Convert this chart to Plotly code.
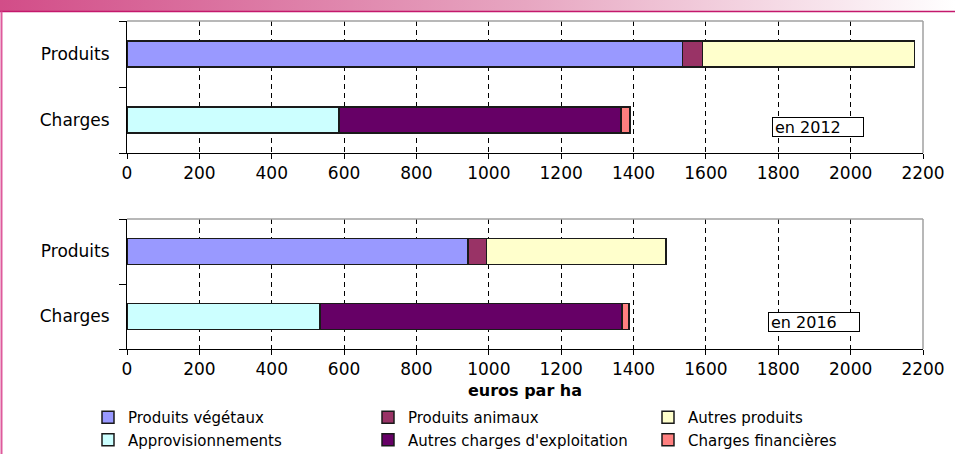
import base64
import plotly.graph_objects as go

# ---- data ----
years = ["2012", "2016"]
categories = ["Charges", "Produits"]
x_ticks = [0, 200, 400, 600, 800, 1000, 1200, 1400, 1600, 1800, 2000, 2200]

produits_vegetaux = [1535, 943]
produits_animaux = [55, 51]
autres_produits = [587, 495]
approvisionnements = [586, 534]
autres_charges = [780, 834]
charges_financieres = [24, 19]

series = [
    ("Produits végétaux", "Produits", produits_vegetaux, "#9999FF"),
    ("Produits animaux", "Produits", produits_animaux, "#993366"),
    ("Autres produits", "Produits", autres_produits, "#FFFFCC"),
    ("Approvisionnements", "Charges", approvisionnements, "#CCFFFF"),
    ("Autres charges d'exploitation", "Charges", autres_charges, "#660066"),
    ("Charges financières", "Charges", charges_financieres, "#FF8080"),
]

W, H = 955, 454
ML, MR, MT, MB = 127, 32, 21, 105
PW, PH = W - ML - MR, H - MT - MB


def px_x(px):
    return (px - ML) / PW


def px_y(py):
    return (H - MB - py) / PH


FONT = "DejaVu Sans"

fig = go.Figure()
for i, yr in enumerate(years):
    xa = "x" if i == 0 else "x2"
    ya = "y" if i == 0 else "y2"
    for name, cat, vals, col in series:
        fig.add_trace(go.Bar(
            name=name, y=[cat], x=[vals[i]], orientation="h",
            xaxis=xa, yaxis=ya, width=0.4,
            marker=dict(color=col, line=dict(color="#1a1a1a", width=1.5)),
            showlegend=(i == 0), legendgroup=name,
            hovertemplate=name + ": %{x}<extra></extra>",
        ))

axis_x = dict(
    range=[0, 2200], tickvals=x_ticks, ticks="outside", ticklen=5,
    tickcolor="black", tickwidth=1, showline=True, linecolor="black",
    linewidth=1, showgrid=True, gridcolor="black", gridwidth=1,
    griddash="5px,4px", zeroline=False,
    tickfont=dict(family=FONT, size=17, color="black"),
)
axis_y = dict(
    type="category", categoryorder="array", categoryarray=categories,
    range=[-0.5, 1.5], tickson="boundaries", ticks="outside", ticklen=7,
    tickcolor="black", showline=True, linecolor="black", linewidth=1,
    showgrid=False, zeroline=False, ticklabelstandoff=13,
    tickfont=dict(family=FONT, size=17, color="black"),
)

top_dom = [px_y(153), px_y(21)]
bot_dom = [px_y(349), px_y(219)]

grad_svg = (
    '<svg xmlns="http://www.w3.org/2000/svg" width="955" height="11" preserveAspectRatio="none">'
    '<defs><linearGradient id="g" x1="0" y1="0" x2="1" y2="0">'
    '<stop offset="0" stop-color="#d24d88"/><stop offset="0.55" stop-color="#e7a6c1"/>'
    '<stop offset="1" stop-color="#ffffff"/></linearGradient></defs>'
    '<rect width="955" height="11" fill="url(#g)"/></svg>'
)
grad_uri = "data:image/svg+xml;base64," + base64.b64encode(grad_svg.encode()).decode()

shapes = []
for xr, yr_ in (("x domain", "y domain"), ("x2 domain", "y2 domain")):
    shapes.append(dict(type="line", xref=xr, yref=yr_, x0=0, x1=1, y0=1, y1=1,
                       line=dict(color="#a0a0a0", width=1.5), layer="above"))
    shapes.append(dict(type="line", xref=xr, yref=yr_, x0=1, x1=1, y0=0, y1=1,
                       line=dict(color="#a0a0a0", width=1.5), layer="above"))
# page decorations
shapes.append(dict(type="line", xref="paper", yref="paper", x0=px_x(0), x1=px_x(W),
                   y0=px_y(11.5), y1=px_y(11.5), line=dict(color="#c4186c", width=1.5)))
shapes.append(dict(type="line", xref="paper", yref="paper", x0=px_x(1.5), x1=px_x(1.5),
                   y0=px_y(11.5), y1=px_y(H), line=dict(color="#de5a9c", width=2)))

ann_common = dict(showarrow=False, xanchor="left", yanchor="middle", align="left",
                  valign="middle", bordercolor="black", borderwidth=1, borderpad=2,
                  bgcolor="white", width=86, height=14,
                  font=dict(family=FONT, size=16, color="black"))

fig.update_layout(
    width=W, height=H, barmode="stack", bargap=0.6,
    margin=dict(l=ML, r=MR, t=MT, b=MB, autoexpand=False),
    paper_bgcolor="white", plot_bgcolor="white",
    xaxis=dict(axis_x, anchor="y"),
    yaxis=dict(axis_y, domain=top_dom, anchor="x"),
    xaxis2=dict(axis_x, anchor="y2",
                title=dict(text="<b>euros par ha</b>", standoff=6,
                           font=dict(family=FONT, size=16, color="black"))),
    yaxis2=dict(axis_y, domain=bot_dom, anchor="x2"),
    shapes=shapes,
    images=[dict(source=grad_uri, xref="paper", yref="paper", x=px_x(0), y=px_y(0),
                 sizex=W / PW, sizey=11 / PH, xanchor="left", yanchor="top",
                 sizing="stretch", layer="below")],
    annotations=[
        dict(ann_common, text="en 2012", xref="x", yref="y", x=1783, y=-0.1),
        dict(ann_common, text="en 2016", xref="x2", yref="y2", x=1772, y=-0.085),
    ],
    legend=dict(orientation="h", x=px_x(88), y=px_y(401), xanchor="left", yanchor="top",
                entrywidth=235, itemwidth=30, traceorder="normal",
                font=dict(family=FONT, size=15, color="black"),
                bgcolor="rgba(0,0,0,0)"),
    font=dict(family=FONT, color="black"),
)

fig.write_html(
    "out.html",
    config={"displayModeBar": False},
    post_script="document.body.style.margin='0';document.body.style.overflow='hidden';",
)
